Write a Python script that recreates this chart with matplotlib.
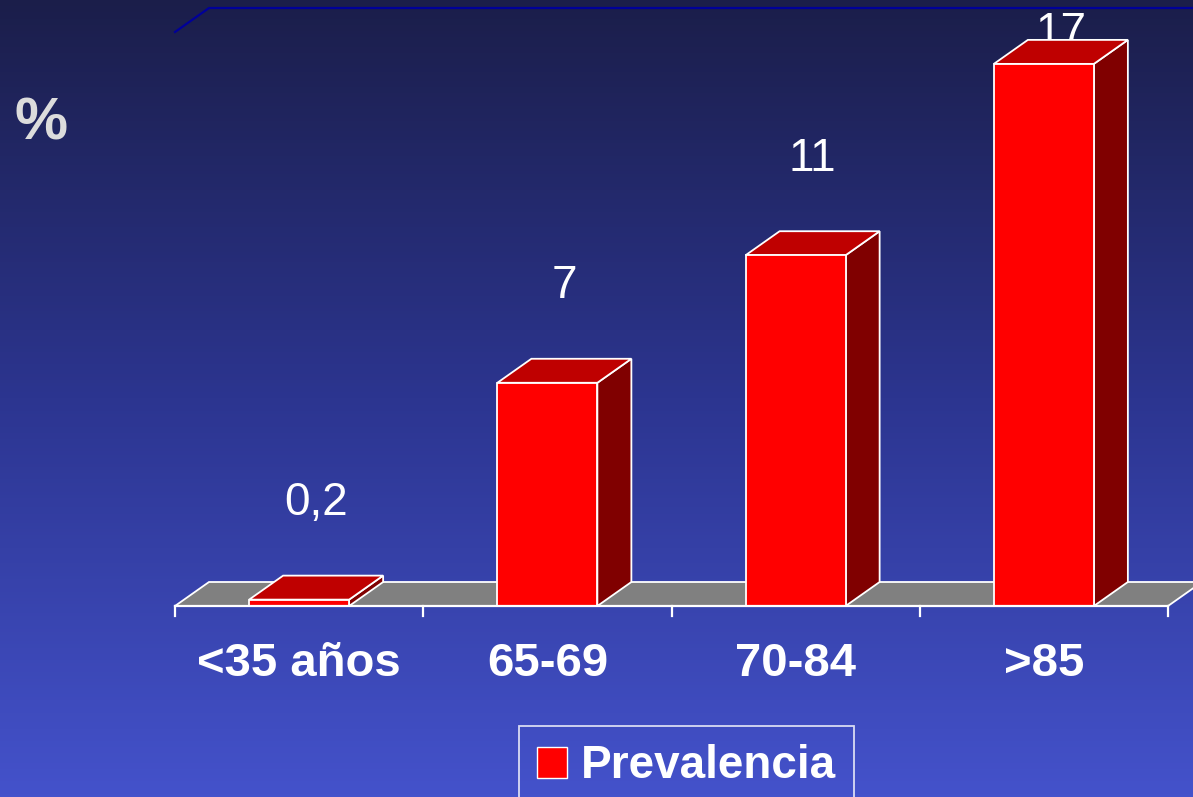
import matplotlib
matplotlib.use('Agg')
import matplotlib.pyplot as plt
from matplotlib.patches import Polygon, Patch
from matplotlib.colors import LinearSegmentedColormap
import numpy as np

categories = ['<35 años', '65-69', '70-84', '>85']
prevalencia = [0.2, 7, 11, 17]
value_labels = ['0,2', '7', '11', '17']
series_name = 'Prevalencia'
y_max = 18

plt.rcParams['font.family'] = ['Liberation Sans', 'DejaVu Sans']

fig = plt.figure(figsize=(11.93, 7.97), dpi=100)
ax = fig.add_axes([0, 0, 1, 1])

# one category = 248.25 px, one unit of % = 574/18 px
px_x = 248.25
px_y = 574 / 18
ax.set_xlim(-175 / px_x, (1193 - 175) / px_x)
ax.set_ylim(-(797 - 606) / px_y, 606 / px_y)
ax.axis('off')

# background gradient, dark navy on top to blue at the bottom
bg = LinearSegmentedColormap.from_list('bg', ['#1b1e4a', '#2c3590', '#4452cb'])
grad = np.linspace(0, 1, 256).reshape(-1, 1)
ax.imshow(grad, cmap=bg, aspect='auto', zorder=0,
          extent=[*ax.get_xlim(), *ax.get_ylim()])

# 3d depth offset
dx = 34 / px_x
dy = 24 / px_y
n = len(categories)
edge = dict(edgecolor='white', linewidth=1.3, joinstyle='miter')

# floor
ax.add_patch(Polygon([(0, 0), (n, 0), (n + dx, dy), (dx, dy)],
                     facecolor='#808080', zorder=1, **edge))

# back wall top line
ax.plot([0, dx, n + dx + 0.5], [y_max, y_max + dy, y_max + dy],
        color='#000099', lw=1.6, zorder=1)

w = 100 / px_x
for i, v in enumerate(prevalencia):
    x0 = i + 0.5 - w / 2
    x1 = x0 + w
    ax.add_patch(Polygon([(x1, 0), (x1 + dx, dy), (x1 + dx, v + dy), (x1, v)],
                         facecolor='#800000', zorder=2, **edge))
    ax.add_patch(Polygon([(x0, v), (x1, v), (x1 + dx, v + dy), (x0 + dx, v + dy)],
                         facecolor='#bf0000', zorder=2, **edge))
    ax.add_patch(Polygon([(x0, 0), (x1, 0), (x1, v), (x0, v)],
                         facecolor='#ff0000', zorder=3, **edge))
    # value labels sit behind the bars (the 17 is partly hidden by its bar)
    ax.text(i + 0.5 + dx / 2, min(v + dy + 1.9, y_max - 0.4), value_labels[i],
            ha='center', va='baseline', fontsize=33, color='white', zorder=1.5)
    ax.text(i + 0.5, -58 / px_y, categories[i], ha='center', va='center',
            fontsize=34, fontweight='bold', color='white', zorder=5)

# category axis with ticks
ax.plot([0, n], [0, 0], color='white', lw=1.6, zorder=4)
for t in range(n + 1):
    ax.plot([t, t], [0, -10 / px_y], color='white', lw=1.6, zorder=4)

fig.text(15 / 1193, 1 - 124 / 797, '%', ha='left', va='center',
         fontsize=43, fontweight='bold', color='#dcdcdc')

leg = fig.legend(handles=[Patch(facecolor='#ff0000', edgecolor='white', label=series_name)],
                 loc='upper left', bbox_to_anchor=(519 / 1193, 1 - 726 / 797),
                 prop={'size': 33, 'weight': 'bold'}, labelcolor='white',
                 frameon=True, fancybox=False, edgecolor='white', facecolor='none',
                 handlelength=0.65, handleheight=0.65, handletextpad=0.3,
                 borderpad=0.4, borderaxespad=0)
leg.get_frame().set_linewidth(1.3)

fig.savefig('out.png', dpi=100)
